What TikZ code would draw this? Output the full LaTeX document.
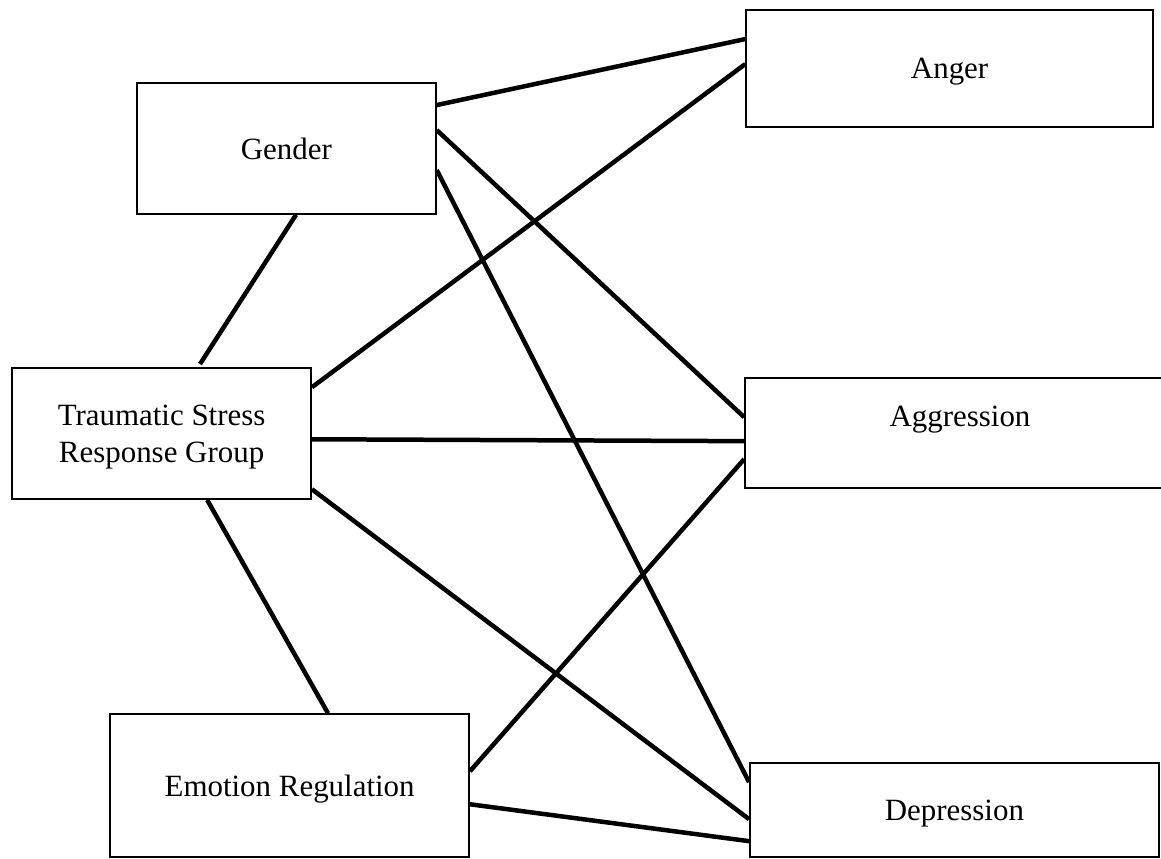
\documentclass[tikz,border=0pt]{standalone}
\usepackage{fontspec}
\setmainfont{Liberation Serif}

\begin{document}
\begin{tikzpicture}[line width=1.2pt,font=\fontsize{22}{26.5}\selectfont,text depth=0pt,
	box/.style={rectangle,draw,align=center,inner sep=0pt},
	link/.style={line width=3.2pt}]
	\useasboundingbox (0,0) rectangle (29.025,-21.475);
	% predictors
	\node (gender) at (7.16,-3.71) [box,minimum width=7.475cm,minimum height=3.275cm] {Gender};
	\node (tsr) at (4.04,-10.84) [box,minimum width=7.475cm,minimum height=3.275cm] {Traumatic Stress\\Response Group};
	\node (emo) at (7.24,-19.64) [box,minimum width=8.975cm,minimum height=3.575cm] {Emotion Regulation};
	% outcomes
	\node (anger) at (23.74,-1.71) [box,minimum width=10.175cm,minimum height=2.925cm] {Anger};
	\node (aggr) at (24.0,-10.825) [box,minimum width=10.75cm,minimum height=2.75cm,text depth=0.82cm] {Aggression};
	\node (dep) at (23.86,-20.25) [box,minimum width=10.225cm,minimum height=2.35cm] {Depression};
	% paths
	\draw [link] ([yshift=-0.575cm]gender.north east) -- ([yshift=-0.75cm]anger.north west);
	\draw [link] ([yshift=-1.2cm]gender.north east) -- ([yshift=-1.0cm]aggr.north west);
	\draw [link] ([yshift=-2.2cm]gender.north east) -- ([yshift=-0.5cm]dep.north west);
	\draw [link] ([xshift=0.24cm]gender.south) -- ([xshift=0.96cm,yshift=0.08cm]tsr.north);
	\draw [link] ([yshift=-0.5cm]tsr.north east) -- ([yshift=-1.375cm]anger.north west);
	\draw [link] ([yshift=-1.8cm]tsr.north east) -- ([yshift=-1.6cm]aggr.north west);
	\draw [link] ([yshift=-3.05cm]tsr.north east) -- ([yshift=-1.425cm]dep.north west);
	\draw [link] ([xshift=1.14cm]tsr.south) -- ([xshift=0.96cm]emo.north);
	\draw [link] ([yshift=-1.45cm]emo.north east) -- ([yshift=-2.05cm]aggr.north west);
	\draw [link] ([yshift=-2.275cm]emo.north east) -- ([yshift=-1.975cm]dep.north west);
\end{tikzpicture}
\end{document}
